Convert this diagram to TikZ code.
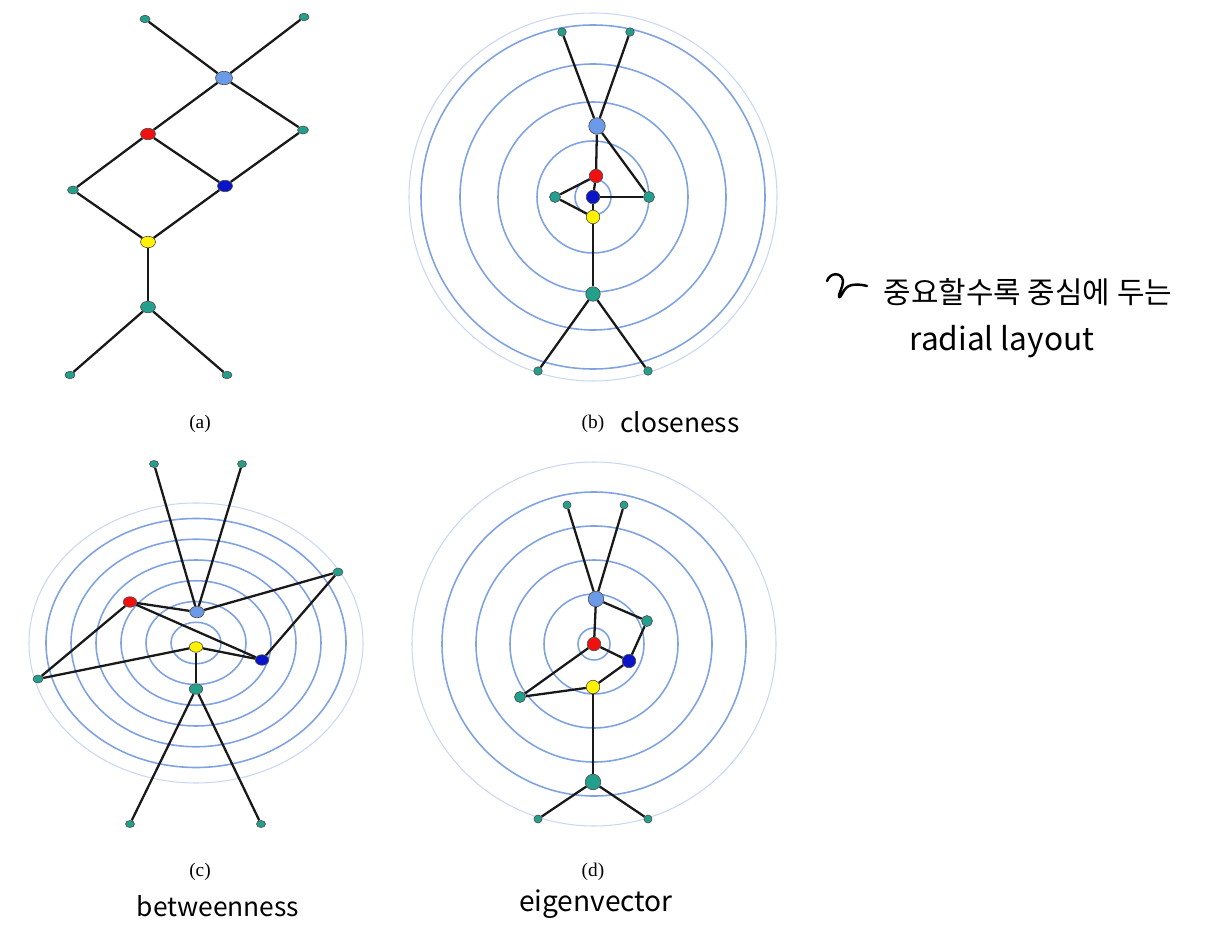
\documentclass[tikz,border=0pt]{standalone}
\usepackage{fontspec}
\setmainfont{Liberation Serif}
\newfontfamily\handfont{Noto Sans CJK KR}
\usetikzlibrary{shapes.geometric, backgrounds}

\definecolor{cteal}{HTML}{22A08C}
\definecolor{clb}{HTML}{6B9AE8}
\definecolor{cred}{HTML}{F01010}
\definecolor{cdb}{HTML}{0A14C8}
\definecolor{cyel}{HTML}{FFF200}
\definecolor{cring}{HTML}{7FA2E2}
\definecolor{cringlt}{HTML}{C9D7F3}

\newcommand\graphedges{tl/lb, tr/lb, lb/red, lb/r, red/l, red/db, r/db, l/y, db/y, y/t, t/bl, t/br}

\tikzset{
  vtx/.style={ellipse, draw=black!70, line width=0.35pt, inner sep=0pt},
  c-tl/.style={fill=cteal}, c-tr/.style={fill=cteal},
  c-bl/.style={fill=cteal}, c-br/.style={fill=cteal},
  c-l/.style={fill=cteal}, c-r/.style={fill=cteal}, c-t/.style={fill=cteal},
  c-lb/.style={fill=clb}, c-red/.style={fill=cred},
  c-db/.style={fill=cdb}, c-y/.style={fill=cyel},
  edge/.style={draw=black!90, line width=1.3pt},
  ring/.style={draw=cring, line width=0.9pt},
  ringlt/.style={draw=cringlt, line width=0.6pt},
  captext/.style={font=\fontsize{11}{13}\selectfont},
  hand/.style={font=\handfont\fontsize{15}{18}\selectfont}
}

\begin{document}
\begin{tikzpicture}[x=0.02cm, y=-0.02cm]
\useasboundingbox (0,0) rectangle (1218,936);

% (a) plain layout
\begin{scope}[leaf/.style={vtx, minimum width=0.2cm, minimum height=0.15cm},
  side/.style={vtx, minimum width=0.22cm, minimum height=0.16cm},
  hub/.style={vtx, minimum width=0.3cm, minimum height=0.23cm},
  thub/.style={hub}, big/.style={vtx, minimum width=0.34cm, minimum height=0.27cm}]
  \foreach \n/\x/\y/\k in {tl/145/19/leaf, tr/304/17/leaf, lb/224/78/big, red/148/134/hub,
      r/303/130/side, l/73/190/side, db/225/186/hub, y/148/242/hub, t/148/307/thub,
      bl/70/375/leaf, br/227/375/leaf}
    \node[\k, c-\n] (a-\n) at (\x,\y) {};
\end{scope}
\node[captext] (cap-a) at (200,424) {(a)};

% (b) closeness
\begin{scope}[leaf/.style={vtx, minimum size=0.17cm}, side/.style={vtx, minimum size=0.22cm},
  hub/.style={vtx, minimum size=0.27cm}, thub/.style={vtx, minimum size=0.29cm},
  big/.style={vtx, minimum size=0.33cm}]
  \foreach \n/\x/\y/\k in {tl/562/32/leaf, tr/630/32/leaf, lb/597/126/big, red/596/176/hub,
      l/555/197/side, db/593/197/hub, r/649/197/side, y/593/217/hub, t/593/294/thub,
      bl/538/371/leaf, br/648/371/leaf}
    \node[\k, c-\n] (b-\n) at (\x,\y) {};
\end{scope}
\node[captext] (cap-b) at (593,424) {(b)};
\node[hand] (hand-b) at (680,422) {closeness};

% (c) betweenness
\begin{scope}[leaf/.style={vtx, minimum width=0.18cm, minimum height=0.14cm},
  side/.style={vtx, minimum width=0.2cm, minimum height=0.16cm},
  hub/.style={vtx, minimum width=0.27cm, minimum height=0.21cm},
  thub/.style={hub}, big/.style={vtx, minimum width=0.29cm, minimum height=0.23cm}]
  \foreach \n/\x/\y/\k in {tl/154/464/leaf, tr/242/464/leaf, lb/197/612/big, red/130/602/hub,
      r/338/572/side, l/38/679/side, db/262/660/hub, y/196/647/hub, t/196/689/thub,
      bl/130/824/leaf, br/261/824/leaf}
    \node[\k, c-\n] (c-\n) at (\x,\y) {};
\end{scope}
\node[captext] (cap-c) at (200,872) {(c)};
\node[hand] (hand-c) at (218,906) {betweenness};

% (d) eigenvector
\begin{scope}[leaf/.style={vtx, minimum size=0.16cm}, side/.style={vtx, minimum size=0.22cm},
  hub/.style={vtx, minimum size=0.27cm}, thub/.style={vtx, minimum size=0.31cm},
  big/.style={vtx, minimum size=0.31cm}]
  \foreach \n/\x/\y/\k in {tl/567/505/leaf, tr/624/505/leaf, lb/596/599/big, r/647/621/side,
      red/594/644/hub, db/629/661/hub, y/593/687/hub, l/520/697/side, t/593/782/thub,
      bl/538/819/leaf, br/648/819/leaf}
    \node[\k, c-\n] (d-\n) at (\x,\y) {};
\end{scope}
\node[captext] (cap-d) at (593,872) {(d)};
\node[hand, font=\handfont\fontsize{16}{18}\selectfont] (hand-d) at (596,904) {eigenvector};

% rings and edges behind the vertices
\begin{scope}[on background layer]
  \foreach \r in {18,56,95,133,172}
    \draw[ring] (593,197) circle[radius=\r];
  \draw[ringlt] (593,197) circle[radius=184];
  \foreach \r in {25,50,...,150}
    \draw[ring] (196,643) circle[x radius=\r, y radius=0.83*\r];
  \draw[ringlt] (196,643) circle[x radius=167, y radius=140];
  \foreach \r in {16,50,84,118,152}
    \draw[ring] (594,644) circle[radius=\r];
  \draw[ringlt] (594,644) circle[radius=182];
  \foreach \p in {a,b,c,d}
    \foreach \u/\v in \graphedges
      \draw[edge] (\p-\u) -- (\p-\v);
\end{scope}

% note
\draw[line width=1.4pt, line cap=round, line join=round]
  (827,281) .. controls (830,272) and (842,272) .. (843,281)
  .. controls (843,288) and (838,294) .. (839,297)
  .. controls (840,300) and (843,290) .. (847,287)
  .. controls (851,284) and (860,284) .. (867,286);
\node[hand, font=\handfont\fontsize{17}{19}\selectfont] (note) at (1028,292) {중요할수록 중심에 두는};
\node[hand, font=\handfont\fontsize{18}{22}\selectfont] (note-2) at (1002,342) {radial layout};
\end{tikzpicture}
\end{document}
